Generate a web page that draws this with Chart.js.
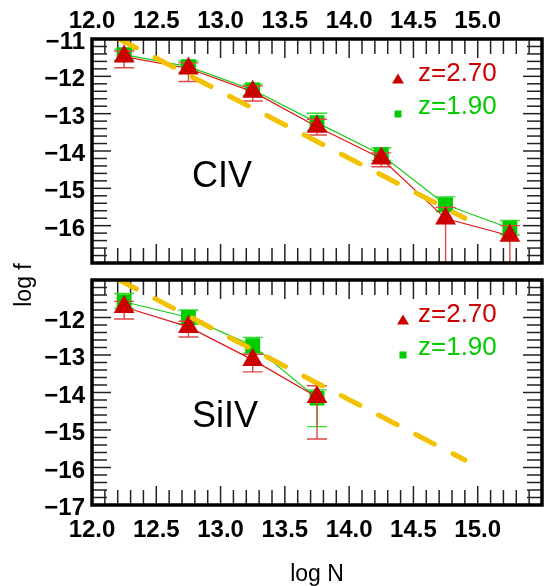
<!DOCTYPE html>
<html><head><meta charset="utf-8">
<script src="https://cdn.jsdelivr.net/npm/chart.js@4.4.1/dist/chart.umd.min.js"></script>
<style>
html,body{margin:0;padding:0;background:#fff;width:554px;height:586px;overflow:hidden}
canvas{position:absolute;left:0;top:0}
</style></head>
<body>
<canvas id="c1" width="554" height="586"></canvas>
<canvas id="c2" width="554" height="586"></canvas>
<script>
// ---- data ----
const xTickLabels = ['12.0','12.5','13.0','13.5','14.0','14.5','15.0'];
const logN_CIV  = [12.25, 12.75, 13.25, 13.75, 14.25, 14.75, 15.25];
const civ_z270     = [-11.47, -11.79, -12.41, -13.35, -14.20, -15.81, -16.27];
const civ_z270_up  = [0.15, 0.15, 0.15, 0.20, 0.15, 0.30, 0.27];
const civ_z270_dn  = [0.30, 0.35, 0.25, 0.22, 0.22, 1.70, 1.00];
const civ_z190     = [-11.42, -11.74, -12.36, -13.24, -14.10, -15.44, -16.07];
const civ_z190_up  = [0.15, 0.15, 0.15, 0.25, 0.18, 0.21, 0.21];
const civ_z190_dn  = [0.15, 0.15, 0.15, 0.20, 0.15, 0.18, 0.18];

const logN_SiIV = [12.25, 12.75, 13.25, 13.75];
const siiv_z270    = [-11.72, -12.25, -13.13, -14.12];
const siiv_z270_up = [0.15, 0.15, 0.15, 0.30];
const siiv_z270_dn = [0.32, 0.27, 0.32, 1.12];
const siiv_z190    = [-11.58, -12.00, -12.75, -14.15];
const siiv_z190_up = [0.22, 0.20, 0.22, 0.22];
const siiv_z190_dn = [0.18, 0.18, 0.20, 0.76];

const fitLineX = [12.20, 14.90];
const fitLineY = [-10.98, -15.80];

const seriesLabels = ['z=2.70', 'z=1.90'];
const panelLabels = ['CIV', 'SiIV'];

// ---- style ----
const FONT = '"Liberation Sans", Arial, Helvetica, sans-serif';
const RED = '#cc0000', GREEN = '#00cc00', YELLOW = '#f2c200';
Chart.defaults.font.family = FONT;
Chart.defaults.color = '#000';

const pts = (xs, ys) => xs.map((x, i) => ({x, y: ys[i]}));

const errPlugin = {
  id: 'errbars',
  beforeDatasetDraw(chart, args) {
    const ds = chart.data.datasets[args.index];
    if (!ds.errUp) return;
    const {ctx, chartArea: a} = chart;
    const xs = chart.scales.x, ys = chart.scales.y;
    ctx.save();
    ctx.beginPath(); ctx.rect(a.left, a.top, a.right - a.left, a.bottom - a.top); ctx.clip();
    ctx.strokeStyle = ds.errColor; ctx.lineWidth = 1.4;
    ds.data.forEach((p, i) => {
      const px = xs.getPixelForValue(p.x);
      const yt = ys.getPixelForValue(p.y + ds.errUp[i]);
      const yb = ys.getPixelForValue(p.y - ds.errDn[i]);
      ctx.beginPath();
      ctx.moveTo(px, yt); ctx.lineTo(px, yb);
      ctx.moveTo(px - 10, yt); ctx.lineTo(px + 10, yt);
      ctx.moveTo(px - 10, yb); ctx.lineTo(px + 10, yb);
      ctx.stroke();
    });
    ctx.restore();
  }
};

const framePlugin = {
  id: 'frame',
  beforeDatasetsDraw(chart) {
    const {ctx, chartArea: a} = chart;
    const xs = chart.scales.x, ys = chart.scales.y;
    ctx.save();
    ctx.strokeStyle = '#222'; ctx.lineWidth = 1.5;
    const seg = (x1, y1, x2, y2) => { ctx.beginPath(); ctx.moveTo(x1, y1); ctx.lineTo(x2, y2); ctx.stroke(); };
    for (let i = 0; i <= 35; i++) {
      const px = xs.getPixelForValue(12 + i * 0.1);
      const L = i % 5 === 0 ? 19 : 15;
      seg(px, a.top, px, a.top + L);
      seg(px, a.bottom, px, a.bottom - L);
    }
    for (let i = 0; i <= 30; i++) {
      const py = ys.getPixelForValue(-17 + i * 0.2);
      const L = i % 5 === 0 ? 19 : 15;
      seg(a.left, py, a.left + L, py);
      seg(a.right, py, a.right - L, py);
    }
    ctx.restore();
  },
  afterDatasetsDraw(chart) {
    const {ctx, chartArea: a} = chart;
    ctx.save();
    ctx.strokeStyle = '#000'; ctx.lineWidth = 3.5;
    ctx.strokeRect(a.left, a.top, a.right - a.left, a.bottom - a.top);
    ctx.restore();
  }
};

const annotPlugin = {
  id: 'annot',
  afterDraw(chart, args, opts) {
    const {ctx, chartArea: a} = chart;
    ctx.save();
    // panel label
    ctx.fillStyle = '#000';
    ctx.font = '36px ' + FONT;
    ctx.textAlign = 'center'; ctx.textBaseline = 'middle';
    ctx.fillText(opts.panel, opts.panelX, a.top + opts.panelDy);
    // legend
    ctx.font = '26px ' + FONT; ctx.textAlign = 'left';
    ctx.fillStyle = RED;
    ctx.fillText(seriesLabels[0], 418, a.top + 35);
    const tx = opts.legX, ty = a.top + 40;
    ctx.beginPath(); ctx.moveTo(tx, ty - 5.5); ctx.lineTo(tx + 6, ty + 4.5); ctx.lineTo(tx - 6, ty + 4.5); ctx.closePath(); ctx.fill();
    ctx.fillStyle = GREEN;
    ctx.fillText(seriesLabels[1], 418, a.top + 68);
    ctx.fillRect(opts.legX - 3.5, a.top + 71.5, 7, 7);
    // axis titles
    if (opts.titles) {
      ctx.fillStyle = '#000';
      ctx.font = '23px ' + FONT;
      ctx.textAlign = 'center'; ctx.textBaseline = 'middle';
      ctx.fillText('log N', (a.left + a.right) / 2, 575);
      ctx.translate(25, 285); ctx.rotate(-Math.PI / 2);
      ctx.fillText('log f', 0, 0);
    }
    ctx.restore();
  }
};

function makeChart(id, cfg) {
  const {xData, red, redUp, redDn, green, greenUp, greenDn, xPos, yMinLabel, yMaxLabel, padding, xHeight, xPad, panel, panelX, panelDy, legX, titles} = cfg;
  return new Chart(document.getElementById(id), {
    type: 'line',
    data: {
      datasets: [
        { label: seriesLabels[0], data: pts(xData, red), errUp: redUp, errDn: redDn, errColor: '#e04848',
          borderColor: '#dd1515', borderWidth: 1.2, pointStyle: 'triangle', pointRadius: 12,
          pointBackgroundColor: RED, pointBorderColor: RED, pointBorderWidth: 0, order: 1, clip: false },
        { label: seriesLabels[1], data: pts(xData, green), errUp: greenUp, errDn: greenDn, errColor: '#33dd33',
          borderColor: '#18cc18', borderWidth: 1.2, pointStyle: 'rect', pointRadius: 10.5,
          pointBackgroundColor: GREEN, pointBorderColor: GREEN, pointBorderWidth: 0, order: 2, clip: false },
        { label: 'fit', data: pts(fitLineX, fitLineY), borderColor: YELLOW, borderWidth: 5,
          borderDash: [21, 21], borderCapStyle: 'round', pointRadius: 0, order: 0, clip: 0 }
      ]
    },
    options: {
      responsive: false, animation: false, events: [],
      layout: { padding },
      plugins: { legend: { display: false }, tooltip: { enabled: false }, annot: { panel, panelX, panelDy, legX, titles } },
      scales: {
        x: {
          type: 'linear', position: xPos, min: 12, max: 15.5,
          grid: { display: false, drawTicks: false, tickLength: 0 }, border: { display: false },
          ticks: { stepSize: 0.5, padding: xPad, maxRotation: 0, autoSkip: false,
                   font: { size: 24, weight: 'bold' }, color: '#000',
                   callback: (v) => xTickLabels[Math.round((v - 12) / 0.5)] },
          afterBuildTicks: (s) => { s.ticks = s.ticks.filter(t => t.value <= 15.0001); },
          afterFit: (s) => { s.height = xHeight; }
        },
        y: {
          type: 'linear', position: 'left', min: -17, max: -11,
          grid: { display: false, drawTicks: false, tickLength: 0 }, border: { display: false },
          ticks: { stepSize: 1, padding: 7, labelOffset: 3.5, autoSkip: false,
                   font: { size: 24, weight: 'bold' }, color: '#000',
                   callback: (v) => '\u2212' + Math.abs(v) },
          afterBuildTicks: (s) => { s.ticks = s.ticks.filter(t => t.value >= yMinLabel - 0.001 && t.value <= yMaxLabel + 0.001); },
          afterFit: (s) => { s.width = 92; }
        }
      }
    },
    plugins: [errPlugin, framePlugin, annotPlugin]
  });
}

makeChart('c1', {
  xData: logN_CIV, red: civ_z270, redUp: civ_z270_up, redDn: civ_z270_dn,
  green: civ_z190, greenUp: civ_z190_up, greenDn: civ_z190_dn,
  xPos: 'top', yMinLabel: -16, yMaxLabel: -11,
  padding: { left: 0, right: 6, top: 0, bottom: 323 }, xHeight: 39, xPad: 3,
  panel: panelLabels[0], panelX: 222, panelDy: 138, legX: 398, titles: false
});
makeChart('c2', {
  xData: logN_SiIV, red: siiv_z270, redUp: siiv_z270_up, redDn: siiv_z270_dn,
  green: siiv_z190, greenUp: siiv_z190_up, greenDn: siiv_z190_dn,
  xPos: 'bottom', yMinLabel: -17, yMaxLabel: -12,
  padding: { left: 0, right: 6, top: 280, bottom: 0 }, xHeight: 81, xPad: 11,
  panel: panelLabels[1], panelX: 225, panelDy: 137, legX: 403, titles: true
});
</script>
</body></html>
